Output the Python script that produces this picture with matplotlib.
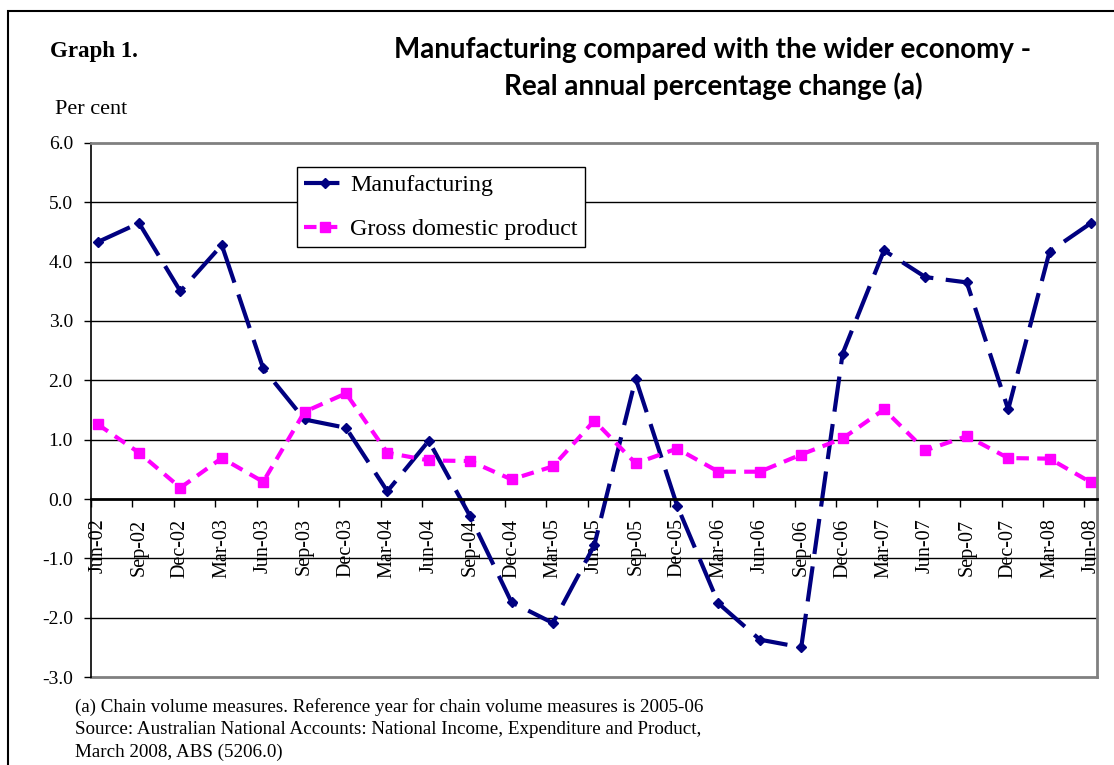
import numpy as np
import matplotlib.pyplot as plt
from matplotlib.patches import Rectangle

quarters = ['Jun-02', 'Sep-02', 'Dec-02', 'Mar-03', 'Jun-03', 'Sep-03', 'Dec-03',
            'Mar-04', 'Jun-04', 'Sep-04', 'Dec-04', 'Mar-05', 'Jun-05', 'Sep-05',
            'Dec-05', 'Mar-06', 'Jun-06', 'Sep-06', 'Dec-06', 'Mar-07', 'Jun-07',
            'Sep-07', 'Dec-07', 'Mar-08', 'Jun-08']
manufacturing = [4.33, 4.65, 3.50, 4.28, 2.20, 1.34, 1.20, 0.13, 0.98, -0.29,
                 -1.74, -2.09, -0.78, 2.03, -0.11, -1.76, -2.37, -2.50, 2.45,
                 4.19, 3.74, 3.65, 1.51, 4.17, 4.65]
gdp = [1.26, 0.78, 0.19, 0.69, 0.29, 1.47, 1.78, 0.78, 0.65, 0.64, 0.33, 0.55,
       1.32, 0.60, 0.85, 0.46, 0.46, 0.75, 1.02, 1.51, 0.82, 1.06, 0.69, 0.68,
       0.28]

serif = 'Liberation Serif'
navy = '#000080'
magenta = '#FF00FF'

fig = plt.figure(figsize=(11.14, 7.65), dpi=100)
ax = fig.add_axes([0.0817, 0.1150, 0.9030, 0.6981])

x = np.arange(len(quarters))
ax.plot(x, manufacturing, color=navy, lw=3, linestyle=(0, (8.5, 3)),
        marker='D', markersize=5.5, label='Manufacturing')
ax.plot(x, gdp, color=magenta, lw=3, linestyle=(0, (3, 2)),
        marker='s', markersize=7, label='Gross domestic product')

ax.set_ylim(-3, 6)
ax.set_xlim(-0.16, len(quarters) - 1 + 0.145)

# horizontal gridlines, zero line heavier
for yv in np.arange(-2, 6, 1.0):
    if yv != 0:
        ax.axhline(yv, color='black', lw=1, zorder=0)
ax.axhline(-3, color='#808080', lw=2, clip_on=False, zorder=0)

ax.set_yticks(np.arange(-3, 6.1, 1.0))
ax.set_yticklabels([f'{v:.1f}' for v in np.arange(-3, 6.1, 1.0)],
                   fontfamily=serif, fontsize=14)
ax.tick_params(axis='y', direction='out', length=5, width=1, pad=8)

# category labels hang from the zero line
ax.spines['bottom'].set_position(('data', 0))
ax.spines['bottom'].set_color('black')
ax.spines['bottom'].set_linewidth(2)
ax.set_xticks(x)
ax.set_xticklabels(quarters, rotation=90, fontfamily=serif, fontsize=14.5)
ax.tick_params(axis='x', which='major', length=0, pad=14)
ax.set_xticks(x - 0.16, minor=True)
ax.tick_params(axis='x', which='minor', direction='out', length=6, width=1)

ax.spines['left'].set_color('black')
ax.spines['left'].set_linewidth(1.2)
for side in ['top', 'right']:
    ax.spines[side].set_color('#808080')
    ax.spines[side].set_linewidth(2)

leg = ax.legend(loc='upper left', bbox_to_anchor=(0.2048, 0.955),
                borderaxespad=0, prop={'family': serif, 'size': 17.3},
                handlelength=1.7, handletextpad=0.2, labelspacing=0.92,
                borderpad=0.3, fancybox=False, framealpha=1)
leg.get_frame().set_edgecolor('black')
leg.get_frame().set_linewidth(1)

fig.text(0.640, 0.9346, 'Manufacturing compared with the wider economy -',
         ha='center', va='center', fontfamily='Lato', fontweight='bold', fontsize=20)
fig.text(0.640, 0.8876, 'Real annual percentage change (a)',
         ha='center', va='center', fontfamily='Lato', fontweight='bold', fontsize=20)
fig.text(50 / 1114, 1 - 52 / 765, 'Graph 1.', ha='left', va='center',
         fontfamily=serif, fontweight='bold', fontsize=16.5)
fig.text(55 / 1114, 1 - 110 / 765, 'Per cent', ha='left', va='center',
         fontfamily=serif, fontsize=16)

notes = ['(a) Chain volume measures. Reference year for chain volume measures is 2005-06',
         'Source: Australian National Accounts: National Income, Expenditure and Product,',
         'March 2008, ABS (5206.0)']
for i, line in enumerate(notes):
    fig.text(75 / 1114, 1 - (707 + 22.5 * i) / 765, line, ha='left', va='center',
             fontfamily=serif, fontsize=13.7)

# outer frame
fig.patches.append(Rectangle((8 / 1114, -0.05), 1.1, 1 - 11 / 765 + 0.05,
                             transform=fig.transFigure, fill=False,
                             edgecolor='black', lw=1.5))

fig.savefig('out.png', dpi=100)
